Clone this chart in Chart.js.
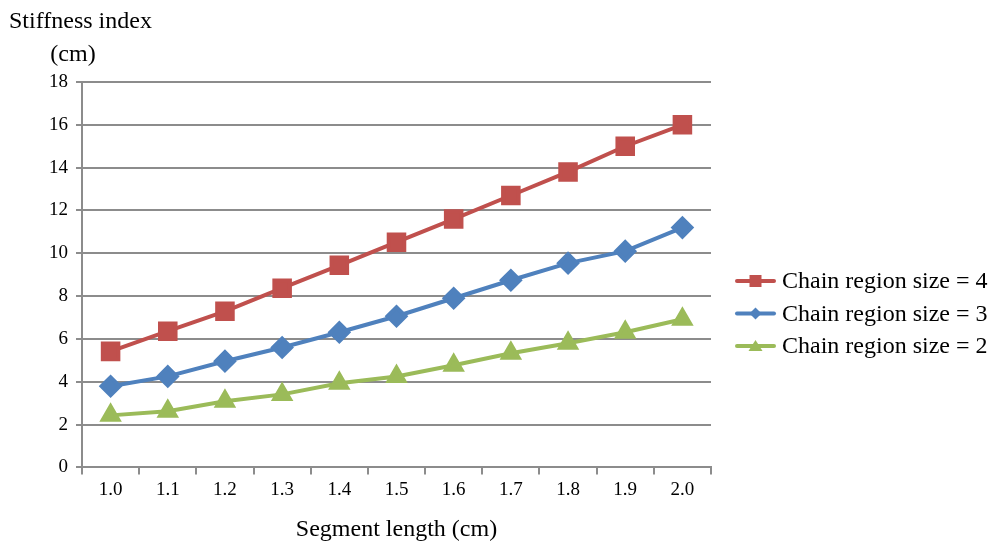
<!DOCTYPE html>
<html>
<head>
<meta charset="utf-8">
<script src="https://cdn.jsdelivr.net/npm/chart.js@4/dist/chart.umd.min.js"></script>
<style>
html,body{margin:0;padding:0;background:#fff;}
#wrap{width:994px;height:544px;position:relative;}
</style>
</head>
<body>
<div id="wrap"><canvas id="c" width="994" height="544"></canvas></div>
<script>
const categories = ["1.0","1.1","1.2","1.3","1.4","1.5","1.6","1.7","1.8","1.9","2.0"];
const size4 = [5.42, 6.36, 7.29, 8.37, 9.44, 10.52, 11.6, 12.7, 13.8, 15.0, 16.0];
const size3 = [3.79, 4.25, 4.96, 5.6, 6.31, 7.06, 7.9, 8.74, 9.54, 10.1, 11.2];
const size2 = [2.43, 2.62, 3.09, 3.41, 3.93, 4.25, 4.77, 5.33, 5.8, 6.31, 6.92];
const seriesLabels = ["Chain region size = 4", "Chain region size = 3", "Chain region size = 2"];
const yTitleLines = ["Stiffness index", "(cm)"];
const xTitle = "Segment length (cm)";

const FONT = "'Liberation Serif','Times New Roman',serif";
const GRID = "#8c8c8c";

const customText = {
  id: 'customText',
  afterDraw(chart) {
    const ctx = chart.ctx;
    ctx.save();
    ctx.fillStyle = '#000';
    ctx.font = "24px " + FONT;
    ctx.textBaseline = 'middle';
    ctx.textAlign = 'left';
    ctx.fillText(yTitleLines[0], 9, 22);
    ctx.textAlign = 'center';
    ctx.fillText(yTitleLines[1], 73, 55);
    // legend
    const ds = chart.data.datasets;
    const lx = 737, ly0 = 281, dy = 32.5;
    ds.forEach((d, i) => {
      const y = ly0 + i * dy;
      ctx.strokeStyle = d.borderColor;
      ctx.lineWidth = 4;
      ctx.lineCap = 'round';
      ctx.beginPath();
      ctx.moveTo(lx, y);
      ctx.lineTo(lx + 37, y);
      ctx.stroke();
      ctx.fillStyle = d.backgroundColor;
      const cx = lx + 18.5;
      ctx.beginPath();
      if (d.pointStyle === 'rect') {
        ctx.rect(cx - 6, y - 6, 12, 12);
      } else if (d.pointStyle === 'rectRot') {
        ctx.moveTo(cx, y - 6); ctx.lineTo(cx + 6, y); ctx.lineTo(cx, y + 6); ctx.lineTo(cx - 6, y); ctx.closePath();
      } else {
        ctx.moveTo(cx, y - 6); ctx.lineTo(cx + 7, y + 5); ctx.lineTo(cx - 7, y + 5); ctx.closePath();
      }
      ctx.fill();
      ctx.fillStyle = '#000';
      ctx.font = "24px " + FONT;
      ctx.textAlign = 'left';
      ctx.textBaseline = 'middle';
      ctx.fillText(d.label, lx + 45, y + 1);
    });
    ctx.restore();
  }
};

new Chart(document.getElementById('c'), {
  type: 'line',
  data: {
    labels: categories,
    datasets: [
      { label: seriesLabels[0], data: size4, borderColor: '#C0504D', backgroundColor: '#C0504D', pointStyle: 'rect', pointRadius: 11, pointHoverRadius: 11, borderWidth: 4, tension: 0 },
      { label: seriesLabels[1], data: size3, borderColor: '#4F81BD', backgroundColor: '#4F81BD', pointStyle: 'rectRot', pointRadius: 9, pointHoverRadius: 9, borderWidth: 4, tension: 0 },
      { label: seriesLabels[2], data: size2, borderColor: '#9BBB59', backgroundColor: '#9BBB59', pointStyle: 'triangle', pointRadius: 9, pointHoverRadius: 9, borderWidth: 4, tension: 0 }
    ]
  },
  options: {
    responsive: false,
    animation: false,
    devicePixelRatio: 1,
    layout: { padding: { left: 41, top: 82, right: 283, bottom: 0 } },
    plugins: { legend: { display: false }, tooltip: { enabled: false } },
    scales: {
      x: {
        offset: true,
        grid: { display: true, drawOnChartArea: false, drawTicks: true, tickLength: 7, color: GRID, lineWidth: 2, offset: true },
        border: { display: true, color: GRID, width: 2 },
        ticks: { color: '#000', font: { family: FONT, size: 19 }, padding: 4, maxRotation: 0 },
        title: { display: true, text: xTitle, color: '#000', font: { family: FONT, size: 24 }, padding: { top: 10, bottom: 0 } }
      },
      y: {
        min: 0, max: 18,
        ticks: { stepSize: 2, color: '#000', font: { family: FONT, size: 19 }, padding: 8 },
        grid: { color: GRID, lineWidth: 2, drawTicks: true, tickLength: 6 },
        border: { display: true, color: GRID, width: 2 }
      }
    }
  },
  plugins: [customText]
});
</script>
</body>
</html>
